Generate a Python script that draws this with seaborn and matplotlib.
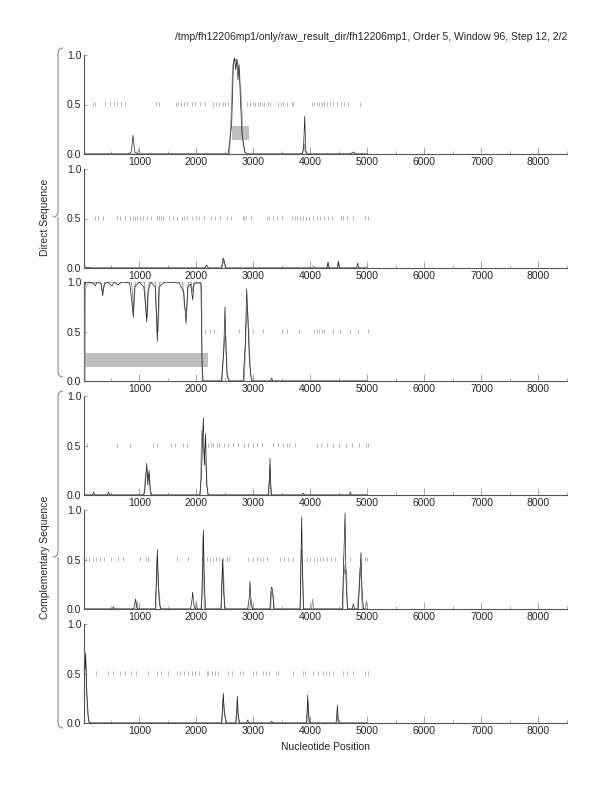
import matplotlib
matplotlib.use("Agg")
import matplotlib.pyplot as plt
from matplotlib.path import Path
from matplotlib.patches import PathPatch, Rectangle
from matplotlib.ticker import MultipleLocator
import pandas as pd
import seaborn as sns

# ---- data (nucleotide position, probability) ----

# panel 1 : direct strand, frame 1
p1_black_x = [48, 800, 860, 890, 920, 980, 2560, 2620, 2650, 2670, 2690, 2710, 2730, 2750, 2770, 2800, 2850, 2900,
              3850, 3880, 3900, 3920, 3950, 4700, 4750, 4800, 5000]
p1_black_y = [0, 0, 0.02, 0.19, 0.02, 0, 0, 0.3, 0.93, 0.97, 0.85, 0.96, 0.75, 0.9, 0.6, 0.2, 0.02, 0,
              0, 0.05, 0.38, 0.03, 0, 0, 0.02, 0, 0]
p1_gray_x = [48, 960, 990, 1020, 2580, 2610, 2640, 2680, 2720, 2760, 2790, 2820, 2860, 3860, 3890, 3910, 3940, 5000]
p1_gray_y = [0, 0, 0.05, 0, 0, 0.4, 0.9, 0.95, 0.95, 0.8, 0.55, 0.1, 0, 0, 0.1, 0.02, 0, 0]
p1_stops = [182, 228, 404, 486, 556, 614, 673, 749, 1287, 1345, 1638, 1684, 1725, 1789, 1842, 1918, 1982, 2064,
            2152, 2287, 2340, 2398, 2462, 2503, 2561, 2608, 2894, 2941, 2989, 3035, 3087, 3117, 3157, 3187, 3252,
            3292, 3427, 3480, 3526, 3585, 3673, 3701, 4024, 4069, 4117, 4157, 4199, 4240, 4287, 4345, 4403,
            4463, 4532, 4590, 4655, 4871]
p1_genes = [(2620, 2930)]

# panel 2 : direct strand, frame 2
p2_black_x = [48, 150, 2150, 2180, 2210, 2440, 2470, 2490, 2520, 4290, 4310, 4330, 4470, 4490, 4510,
              4810, 4830, 4850, 5000]
p2_black_y = [0.01, 0, 0, 0.03, 0, 0, 0.1, 0.07, 0, 0, 0.06, 0, 0, 0.07, 0, 0, 0.05, 0, 0]
p2_gray_x = [48, 2450, 2480, 2510, 4020, 4050, 4080, 4290, 4305, 4320, 4480, 4495, 4510, 5000]
p2_gray_y = [0, 0, 0.08, 0, 0, 0.02, 0, 0, 0.05, 0, 0, 0.05, 0, 0]
p2_stops = [223, 281, 357, 603, 661, 749, 837, 883, 924, 965, 1012, 1059, 1129, 1199, 1316, 1345, 1375, 1421,
            1527, 1585, 1655, 1743, 1784, 1842, 1918, 1994, 2053, 2135, 2252, 2322, 2415, 2532, 2602, 2813,
            2836, 2871, 2953, 3234, 3281, 3339, 3409, 3497, 3678, 3731, 3772, 3819, 3865, 3924, 3982, 4052,
            4122, 4169, 4239, 4315, 4374, 4538, 4579, 4637, 4743, 4959, 5017]
p2_genes = []

# panel 3 : direct strand, frame 3
p3_black_x = [48, 60, 200, 230, 260, 330, 357, 385, 450, 520, 560, 620, 700, 830, 870, 895, 915, 1000, 1080,
              1110, 1130, 1150, 1200, 1280, 1316, 1345, 1450, 1700, 1780, 1819, 1850, 1900, 1936, 1960, 2050,
              2080, 2105, 2130, 2440, 2480, 2503, 2520, 2540, 2570, 2820, 2860, 2883, 2900, 2930, 2970,
              3300, 3321, 3340, 5000]
p3_black_y = [0.97, 1.0, 0.99, 0.96, 1.0, 0.98, 0.86, 0.98, 1.0, 0.96, 1.0, 0.97, 1.0, 0.99, 0.8, 0.64, 0.95,
              1.0, 0.95, 0.75, 0.6, 0.9, 1.0, 0.95, 0.4, 0.95, 1.0, 0.99, 0.9, 0.58, 0.95, 0.98, 0.82, 0.98, 1.0,
              0.99, 0.0, 0, 0, 0.3, 0.75, 0.3, 0.05, 0, 0, 0.4, 0.93, 0.7, 0.2, 0,
              0, 0.03, 0, 0]
p3_gray_x = [48, 55, 120, 180, 240, 320, 357, 400, 860, 880, 900, 930, 1090, 1110, 1140, 1170, 1280, 1300,
             1330, 1360, 1760, 1790, 1830, 1860, 1910, 1930, 1960, 2090, 2100, 2120, 2450, 2490, 2515, 2540,
             2570, 2840, 2870, 2895, 2920, 2950, 2990, 5000]
p3_gray_y = [0, 0.95, 1.0, 0.98, 1.0, 1.0, 0.9, 1.0, 1.0, 0.9, 0.7, 1.0, 1.0, 0.8, 0.65, 1.0, 1.0, 0.7,
             0.5, 1.0, 1.0, 0.75, 0.7, 1.0, 1.0, 0.9, 1.0, 0.98, 0.2, 0, 0, 0.4, 0.46, 0.1,
             0, 0, 0.5, 0.75, 0.5, 0.05, 0, 0]
p3_stops = [2152, 2240, 2310, 2754, 2989, 3164, 3497, 3596, 3807, 4064, 4111, 4157, 4204, 4245, 4398, 4526,
            4700, 4841, 5017]
p3_genes = [(30, 2210)]

# panel 4 : complementary strand, frame 1
p4_black_x = [48, 180, 200, 220, 440, 460, 480, 1060, 1090, 1110, 1130, 1150, 1170, 1190, 1220, 2060, 2090,
              2110, 2123, 2140, 2163, 2180, 2210, 3260, 3280, 3292, 3305, 3320, 3850, 3877, 3900, 4680, 4700,
              4720, 5000]
p4_black_y = [0, 0, 0.03, 0, 0, 0.03, 0, 0, 0.02, 0.15, 0.32, 0.1, 0.25, 0.05, 0, 0, 0.2,
              0.6, 0.78, 0.3, 0.62, 0.1, 0, 0, 0.15, 0.37, 0.1, 0, 0, 0.02, 0, 0, 0.03,
              0, 0]
p4_gray_x = [48, 1080, 1110, 1130, 1150, 1175, 1200, 2070, 2095, 2115, 2140, 2170, 2200, 3270, 3290, 3310, 5000]
p4_gray_y = [0, 0, 0.2, 0.25, 0.15, 0.22, 0, 0, 0.65, 0.5, 0.4, 0.3, 0, 0, 0.28, 0, 0]
p4_stops = [77, 614, 837, 1234, 1304, 1556, 1626, 1772, 1831, 2210, 2252, 2298, 2357, 2398, 2485, 2561, 2649,
            2736, 2836, 2912, 2999, 3070, 3157, 3350, 3438, 3526, 3585, 3631, 3731, 4111, 4190, 4290, 4400,
            4510, 4620, 4730, 4850, 4970, 5010]
p4_genes = []

# panel 5 : complementary strand, frame 2
p5_black_x = [48, 520, 544, 570, 900, 935, 950, 975, 1280, 1300, 1316, 1335, 1350, 1380, 1900, 1925, 1936,
              1955, 1980, 2090, 2110, 2123, 2140, 2160, 2430, 2450, 2462, 2475, 2500, 2900, 2925, 2941, 2960,
              2990, 3290, 3310, 3322, 3340, 3360, 3820, 3838, 3848, 3860, 3880, 4560, 4590, 4608, 4625, 4650,
              4730, 4754, 4780, 4840, 4865, 4888, 4905, 4930, 5000]
p5_black_y = [0, 0, 0.02, 0, 0, 0.1, 0.02, 0, 0, 0.3, 0.6, 0.28, 0.05, 0, 0, 0.1, 0.17,
              0.05, 0, 0, 0.4, 0.8, 0.3, 0, 0, 0.3, 0.5, 0.2, 0, 0, 0.1, 0.28, 0.05,
              0, 0, 0.2, 0.22, 0.18, 0, 0, 0.6, 0.93, 0.4, 0, 0, 0.6, 0.97, 0.3, 0,
              0, 0.05, 0, 0, 0.3, 0.57, 0.2, 0, 0]
p5_gray_x = [48, 940, 960, 980, 1290, 1310, 1330, 1350, 1370, 1980, 2000, 2020, 2080, 2100, 2120, 2140, 2440,
             2460, 2480, 2500, 2930, 2960, 2980, 3300, 3320, 3345, 3370, 3820, 3840, 3860, 3880, 4020, 4040,
             4060, 4570, 4590, 4610, 4630, 4650, 4820, 4850, 4870, 4890, 4910, 4960, 4981, 5000]
p5_gray_y = [0, 0, 0.08, 0, 0, 0.5, 0.25, 0.15, 0, 0, 0.08, 0, 0, 0.13, 0.75, 0, 0,
             0.5, 0.3, 0, 0, 0.1, 0, 0, 0.18, 0.12, 0, 0, 0.6, 0.45, 0, 0, 0.1,
             0, 0, 0.45, 0.35, 0.4, 0, 0, 0.18, 0.42, 0.3, 0, 0, 0.08, 0]
p5_stops = [65, 123, 182, 240, 310, 381, 498, 632, 708, 1012, 1117, 1158, 1655, 1860, 2181, 2240, 2287, 2345,
            2404, 2474, 2532, 2579, 2912, 3000, 3058, 3117, 3175, 3234, 3468, 3538, 3614, 3702, 3936, 3994,
            4064, 4122, 4169, 4216, 4286, 4356, 4432, 4579, 4696, 4959, 4988]
p5_genes = []

# panel 6 : complementary strand, frame 3
p6_black_x = [48, 60, 80, 110, 140, 2440, 2460, 2473, 2490, 2510, 2530, 2690, 2710, 2719, 2735, 2760, 2880,
              2900, 2920, 3300, 3322, 3340, 3930, 3945, 3953, 3965, 3990, 4450, 4465, 4473, 4485, 4510, 5000]
p6_black_y = [0.55, 0.7, 0.3, 0.02, 0, 0, 0.15, 0.3, 0.1, 0.05, 0, 0, 0.15, 0.27, 0.08, 0, 0,
              0.03, 0, 0, 0.02, 0, 0, 0.15, 0.28, 0.1, 0, 0, 0.1, 0.18, 0.05, 0, 0]
p6_gray_x = [48, 65, 90, 120, 2450, 2470, 2500, 2520, 2700, 2720, 2740, 3940, 3960, 3975, 4460, 4475, 4490, 5000]
p6_gray_y = [0.72, 0.5, 0.1, 0, 0, 0.25, 0.08, 0, 0, 0.2, 0, 0, 0.22, 0, 0, 0.12, 0, 0]
p6_stops = [240, 457, 544, 661, 749, 848, 942, 1158, 1304, 1375, 1509, 1655, 1714, 1784, 1860, 1918, 1977,
            2053, 2181, 2211, 2269, 2328, 2386, 2561, 2620, 2766, 2824, 3000, 3047, 3175, 3222, 3281, 3397,
            3438, 3702, 3865, 3906, 4041, 4140, 4216, 4269, 4333, 4391, 4567, 4637, 4743, 4959, 5017]
p6_genes = []

panels = [
    (p1_black_x, p1_black_y, p1_gray_x, p1_gray_y, p1_stops, p1_genes),
    (p2_black_x, p2_black_y, p2_gray_x, p2_gray_y, p2_stops, p2_genes),
    (p3_black_x, p3_black_y, p3_gray_x, p3_gray_y, p3_stops, p3_genes),
    (p4_black_x, p4_black_y, p4_gray_x, p4_gray_y, p4_stops, p4_genes),
    (p5_black_x, p5_black_y, p5_gray_x, p5_gray_y, p5_stops, p5_genes),
    (p6_black_x, p6_black_y, p6_gray_x, p6_gray_y, p6_stops, p6_genes),
]

title = "/tmp/fh12206mp1/only/raw_result_dir/fh12206mp1, Order 5, Window 96, Step 12, 2/2"

sns.set_style("ticks")
plt.rcParams["font.family"] = ["Liberation Sans", "DejaVu Sans"]

W, H = 612, 792
fig = plt.figure(figsize=(6.12, 7.92), dpi=100)

def fx(px):
    return px / W

def fy(py):
    return 1 - py / H

for i, (bx, by, gx, gy, stops, genes) in enumerate(panels):
    y0 = 154 + 114 * i - (1 if i >= 2 else 0)
    ax = fig.add_axes([fx(84), fy(y0), fx(567) - fx(84), 99 / H])

    for g0, g1 in genes:
        ax.add_patch(Rectangle((g0, 0.14), g1 - g0, 0.14, color="#c0c0c0", lw=0, zorder=1))

    ax.vlines(stops, 0.48, 0.525, color="#a8a8a8", lw=0.6, zorder=2)

    dg = pd.DataFrame({"pos": gx, "prob": gy})
    db = pd.DataFrame({"pos": bx, "prob": by})
    sns.lineplot(data=dg, x="pos", y="prob", ax=ax, color="#9a9a9a", lw=0.7, estimator=None, zorder=3)
    sns.lineplot(data=db, x="pos", y="prob", ax=ax, color="#202020", lw=0.5, estimator=None, zorder=4)

    ax.set_xlim(30, 8500)
    ax.set_ylim(0, 1)
    ax.set_xlabel("")
    ax.set_ylabel("")
    ax.set_yticks([0, 0.5, 1.0])
    ax.set_yticklabels(["0.0", "0.5", "1.0"])
    ax.xaxis.set_major_locator(MultipleLocator(1000))
    ax.xaxis.set_minor_locator(MultipleLocator(500))
    ax.tick_params(axis="x", which="major", direction="in", length=5, width=0.6, color="#999999",
                   labelsize=7.5, pad=2)
    ax.tick_params(axis="x", which="minor", direction="in", length=2.5, width=0.6, color="#999999")
    ax.tick_params(axis="y", direction="in", length=2.5, width=0.6, color="#999999", labelsize=7.5, pad=2)
    sns.despine(ax=ax)
    for s in ("left", "bottom"):
        ax.spines[s].set_color("#555555")
        ax.spines[s].set_linewidth(0.8)
    ax.set_facecolor("none")

# curly braces for the two strands
def brace(top, bottom, mid, xl=53, xv=58, xr=63):
    verts = [(xr, top), (xv, top), (xv, top + 6),
             (xv, mid - 6),
             (xv, mid), (xl, mid),
             (xv, mid), (xv, mid + 6),
             (xv, bottom - 6),
             (xv, bottom), (xr, bottom)]
    codes = [Path.MOVETO, Path.CURVE3, Path.CURVE3,
             Path.LINETO,
             Path.CURVE3, Path.CURVE3,
             Path.MOVETO, Path.CURVE3,
             Path.LINETO,
             Path.CURVE3, Path.CURVE3]
    verts = [(fx(a), fy(b)) for a, b in verts]
    fig.add_artist(PathPatch(Path(verts, codes), fill=False, ec="#8a8a8a", lw=0.8,
                             transform=fig.transFigure))

brace(48, 377, 217)
brace(391, 728, 557)

fig.text(fx(45), fy(217), "Direct Sequence", rotation=90, ha="center", va="center", fontsize=7.5)
fig.text(fx(45), fy(557), "Complementary Sequence", rotation=90, ha="center", va="center", fontsize=7.5)
fig.text(fx(567), fy(37), title, ha="right", va="center", fontsize=7.5)
fig.text(fx(325), fy(747), "Nucleotide Position", ha="center", va="center", fontsize=7.5)

fig.savefig("out.png", dpi=100, facecolor="white")
